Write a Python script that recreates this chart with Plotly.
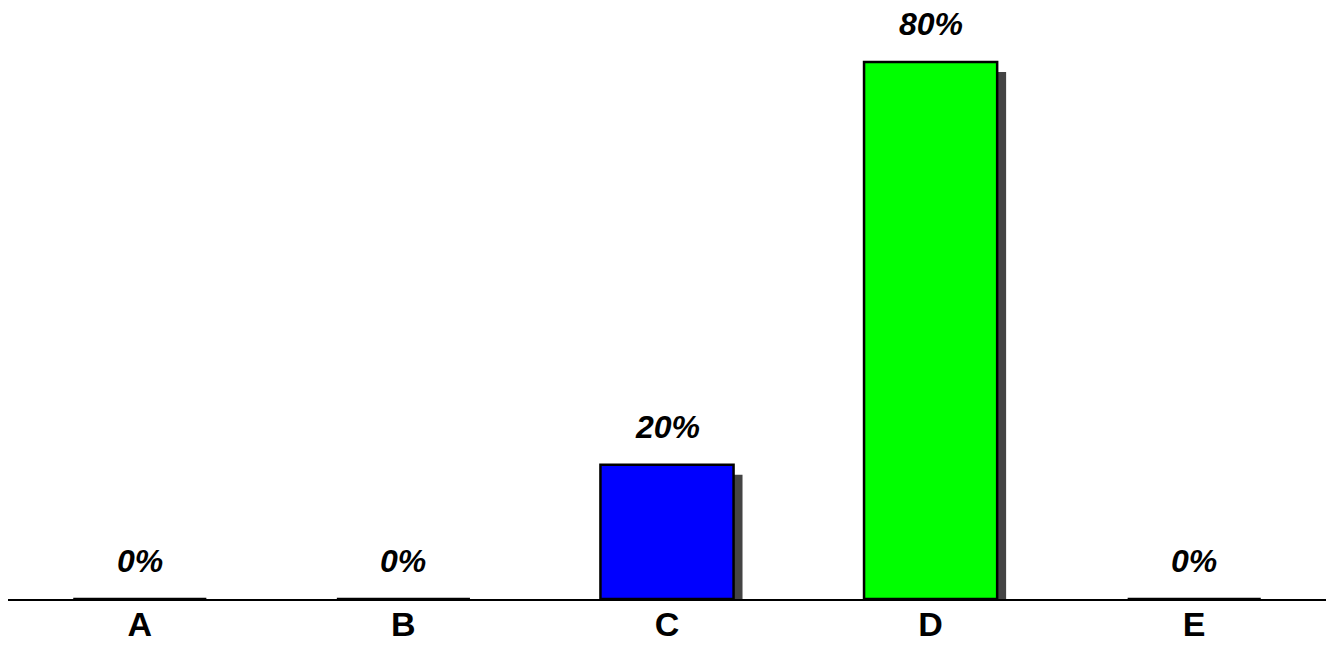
import plotly.graph_objects as go

categories = ["A", "B", "C", "D", "E"]
values = [0, 0, 20, 80, 0]
labels = ["0%", "0%", "20%", "80%", "0%"]
bar_colors = ["#FF0000", "#FFFF00", "#0000FF", "#00FF00", "#FF00FF"]

BAR_W = 0.505
SHADOW_DX = 0.034   # category units
SHADOW_DY = 1.5     # value units
Y_MAX = 88.04

shadow_vals = [max(0, v - SHADOW_DY) for v in values]

fig = go.Figure()
fig.add_trace(go.Bar(
    x=categories, y=shadow_vals, width=BAR_W, offset=-BAR_W / 2 + SHADOW_DX,
    marker=dict(color="#444444", line=dict(width=0)),
    hoverinfo="skip", showlegend=False,
))
fig.add_trace(go.Bar(
    x=categories, y=values, width=BAR_W, offset=-BAR_W / 2,
    marker=dict(color=bar_colors, line=dict(color="black", width=2.5)),
    showlegend=False,
))

for c, v, t in zip(categories, values, labels):
    fig.add_annotation(
        x=c, y=v, text=f"<b><i>{t}</i></b>", showarrow=False,
        yanchor="bottom", yshift=18,
        font=dict(family="Liberation Sans, Arial", size=32, color="black"),
    )

fig.update_layout(
    width=1334, height=653,
    margin=dict(l=0, r=16, t=0, b=62),
    paper_bgcolor="white", plot_bgcolor="white",
    barmode="overlay",
    font=dict(family="Liberation Sans, Arial", color="black"),
)
fig.update_xaxes(
    showline=True, linecolor="black", linewidth=2,
    showgrid=False, ticks="", zeroline=False,
    tickfont=dict(family="Liberation Sans, Arial", size=34, color="black"),
    tickprefix="<b>", ticksuffix="</b>",
    ticklabelstandoff=-6,
)
fig.update_yaxes(
    range=[0, Y_MAX], visible=False, showgrid=False, zeroline=False,
)

fig.write_html("out.html")
